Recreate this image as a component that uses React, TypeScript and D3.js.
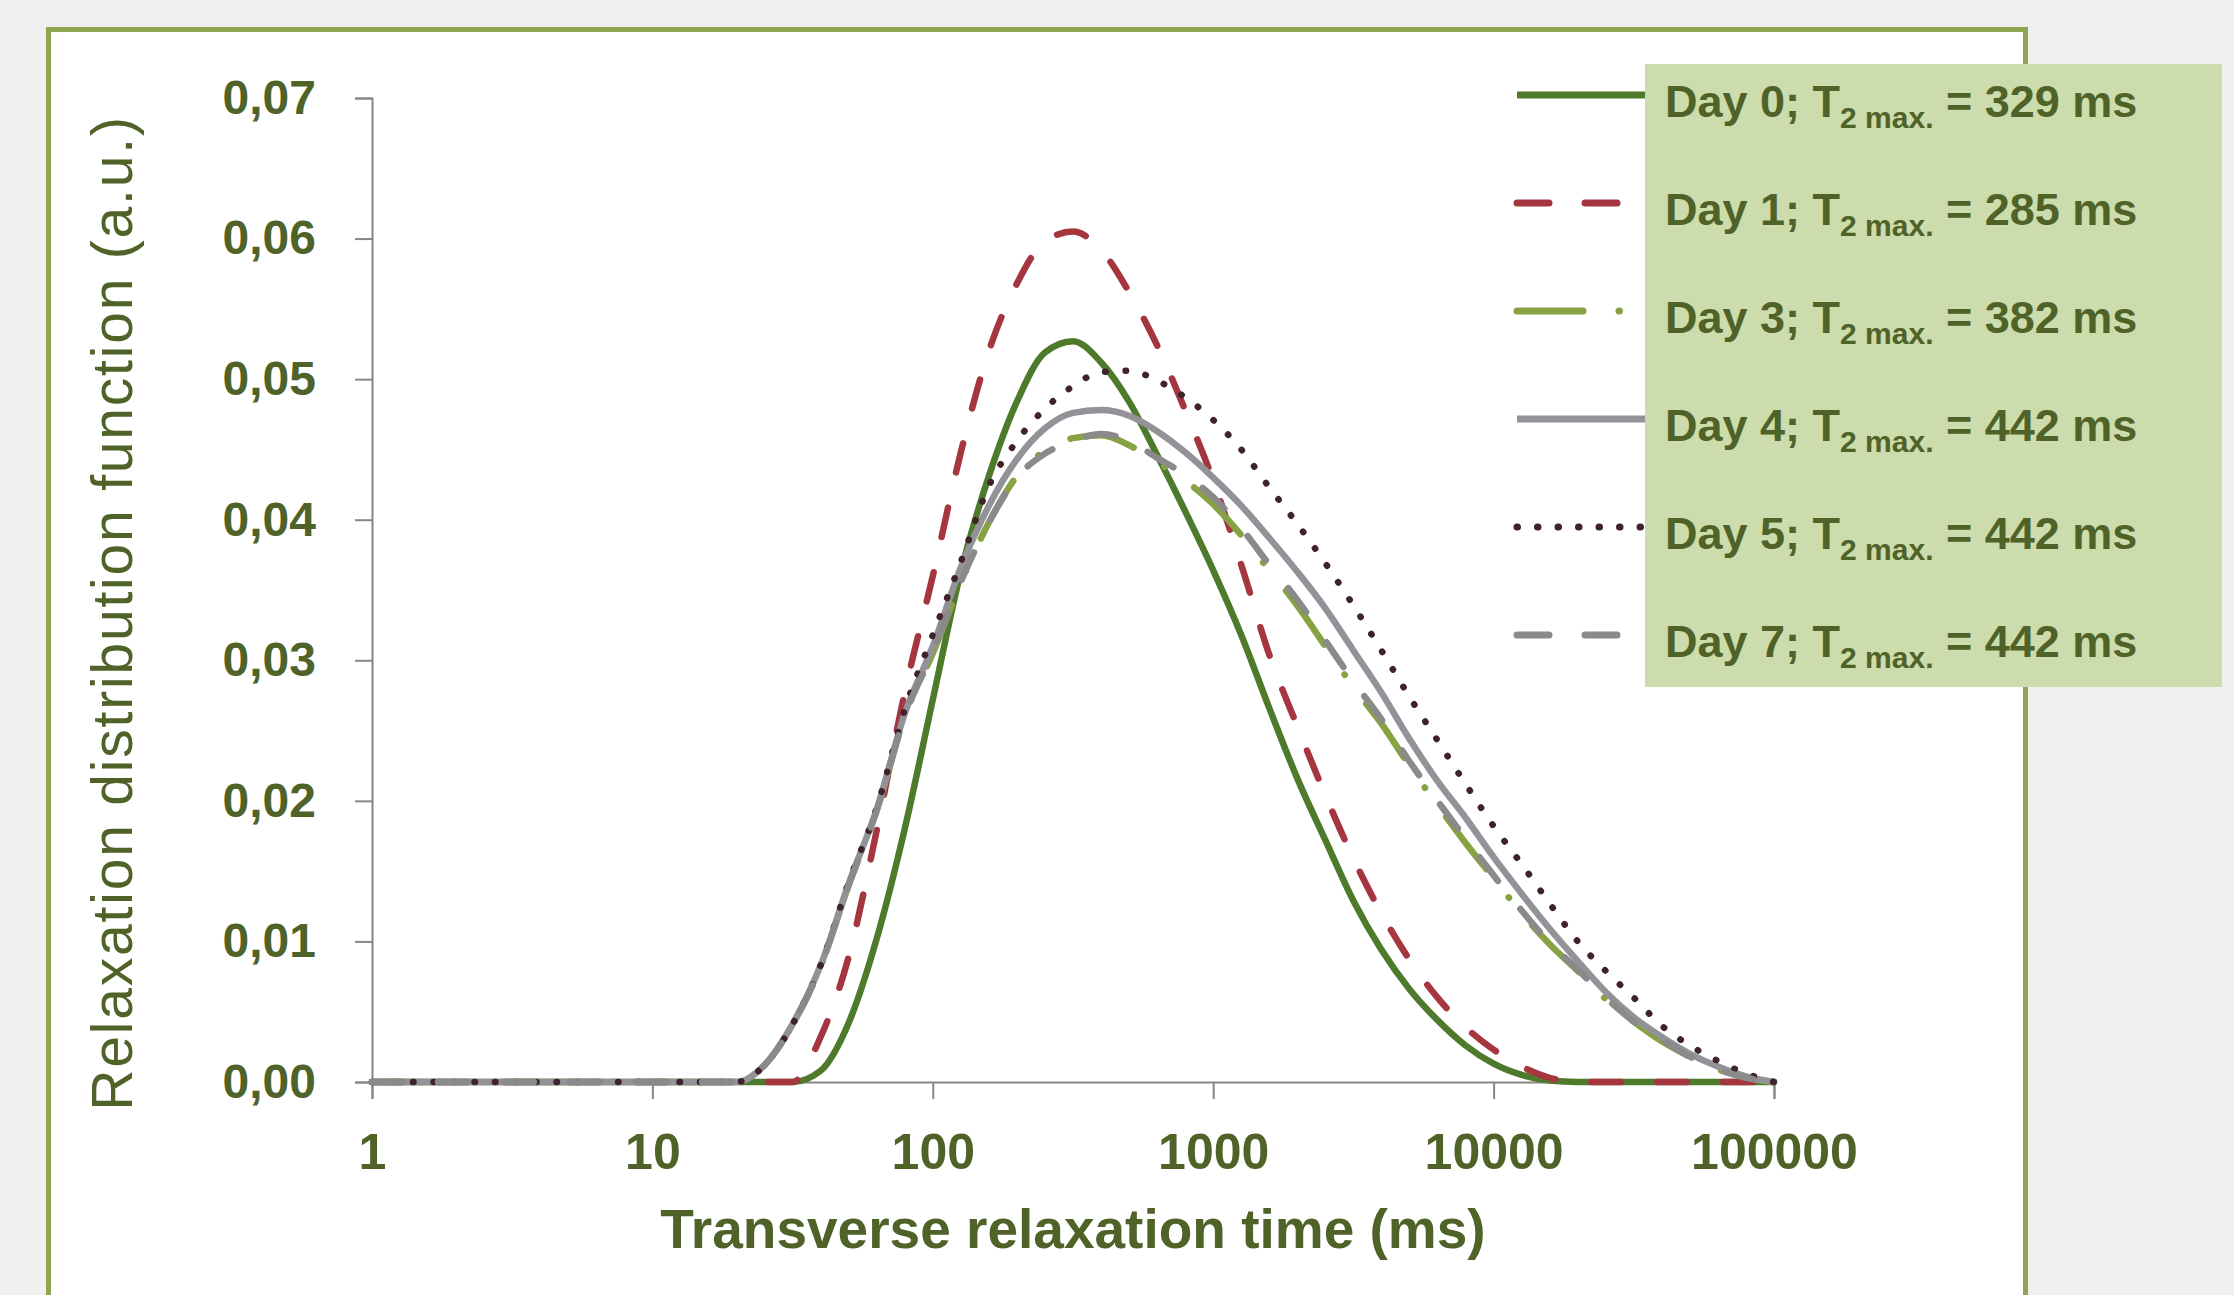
import { useEffect, useRef } from 'react';
import * as d3 from 'd3';

// transverse relaxation times (ms), log spaced
const T2_MS = [1, 20, 25.1, 31.6, 39.8, 50.1, 63.1, 79.4, 100, 125.9, 158.5, 199.5, 251.2, 316.2, 398.1, 501.2, 631, 794.3, 1000, 1259, 1585, 1995, 2512, 3162, 3981, 5012, 6310, 7943, 10000, 12589, 15849, 19953, 25119, 31623, 39811, 50119, 63096, 79433, 100000];

const DAY0 = [0, 0, 0, 0, 0.0008, 0.0042, 0.0102, 0.018, 0.0272, 0.0363, 0.0431, 0.0484, 0.0519, 0.0527, 0.0512, 0.0484, 0.0446, 0.0406, 0.0364, 0.0318, 0.0266, 0.0216, 0.0172, 0.0129, 0.0094, 0.0066, 0.0044, 0.0026, 0.0013, 0.0005, 0.0001, 0, 0, 0, 0, 0, 0, 0, 0];
const DAY1 = [0, 0, 0, 0, 0.0032, 0.0089, 0.0179, 0.0277, 0.036, 0.0448, 0.052, 0.0568, 0.0598, 0.0605, 0.0592, 0.0562, 0.0524, 0.0478, 0.0428, 0.0368, 0.0304, 0.0253, 0.0204, 0.0159, 0.012, 0.0087, 0.006, 0.0039, 0.0023, 0.0011, 0.0003, 0, 0, 0, 0, 0, 0, 0, 0];
const DAY3 = [0, 0, 0.0012, 0.0041, 0.0082, 0.014, 0.0193, 0.026, 0.0305, 0.0355, 0.0398, 0.0431, 0.0449, 0.0458, 0.046, 0.0453, 0.0441, 0.0428, 0.0411, 0.0389, 0.0364, 0.0339, 0.031, 0.0281, 0.0255, 0.0225, 0.0197, 0.017, 0.0145, 0.012, 0.0098, 0.0079, 0.0059, 0.0043, 0.0029, 0.0018, 0.0009, 0.0003, 0];
const DAY4 = [0, 0, 0.0012, 0.0041, 0.0083, 0.0141, 0.0194, 0.0262, 0.031, 0.0366, 0.041, 0.0443, 0.0465, 0.0476, 0.0478, 0.0474, 0.0463, 0.0448, 0.043, 0.041, 0.0387, 0.0363, 0.0337, 0.0307, 0.0277, 0.0244, 0.0214, 0.0188, 0.016, 0.0134, 0.0109, 0.0086, 0.0064, 0.0046, 0.0032, 0.002, 0.0011, 0.0004, 0];
const DAY5 = [0, 0, 0.0012, 0.0041, 0.0083, 0.0142, 0.0195, 0.0265, 0.0318, 0.037, 0.0424, 0.0456, 0.0479, 0.0495, 0.0505, 0.0506, 0.0499, 0.0487, 0.0471, 0.045, 0.0423, 0.0397, 0.0369, 0.0339, 0.0307, 0.0274, 0.0243, 0.0212, 0.0182, 0.0155, 0.0127, 0.01, 0.0079, 0.006, 0.004, 0.0026, 0.0015, 0.0006, 0];
const DAY7 = [0, 0, 0.0012, 0.0041, 0.0082, 0.014, 0.0193, 0.026, 0.0306, 0.0356, 0.0398, 0.043, 0.0447, 0.0456, 0.0461, 0.0456, 0.0444, 0.0432, 0.0416, 0.0394, 0.0368, 0.0343, 0.0314, 0.0285, 0.0258, 0.0228, 0.02, 0.0173, 0.0147, 0.0122, 0.0099, 0.008, 0.006, 0.0043, 0.003, 0.0018, 0.0009, 0.0003, 0];

const SERIES_NAMES = ['Day 0', 'Day 1', 'Day 3', 'Day 4', 'Day 5', 'Day 7'];
const T2_MAX = [329, 285, 382, 442, 442, 442];
const X_TICKS = [1, 10, 100, 1000, 10000, 100000];
const Y_TICKS = [0, 0.01, 0.02, 0.03, 0.04, 0.05, 0.06, 0.07];

const SERIES_VALUES = [DAY0, DAY1, DAY3, DAY4, DAY5, DAY7];

const STYLES = [
  { color: '#4e7a2c', dash: null, cap: 'round' },
  { color: '#a5363f', dash: '30,36', cap: 'round' },
  { color: '#86a243', dash: '66,36,0.5,36', cap: 'round' },
  { color: '#929298', dash: null, cap: 'round' },
  { color: '#40222a', dash: '0.5,20', cap: 'round' },
  { color: '#8a8a8a', dash: '30,36', cap: 'round' },
];

const TEXT = '#4f6228';
const FONT = "'Liberation Sans', Arial, sans-serif";

export default function App() {
  const ref = useRef<SVGSVGElement>(null);

  useEffect(() => {
    const svg = d3.select(ref.current);
    svg.selectAll('*').remove();

    const x = d3.scaleLog().domain([1, 100000]).range([372, 1774]);
    const y = d3.scaleLinear().domain([0, 0.07]).range([1082, 98]);

    svg.append('rect').attr('width', 2234).attr('height', 1295).attr('fill', '#f0f0f0');
    svg.append('rect').attr('x', 48.5).attr('y', 29.5).attr('width', 1977).attr('height', 1400)
      .attr('fill', '#fff').attr('stroke', '#8ea64f').attr('stroke-width', 5);

    const comma = d3.formatLocale({ decimal: ',', thousands: '.', grouping: [3], currency: ['', ''] }).format('.2f');

    const yAxis = svg.append('g').attr('transform', `translate(${x(1)},0)`)
      .call(d3.axisLeft(y).tickValues(Y_TICKS).tickSize(17).tickPadding(39).tickFormat(d => comma(d as number)));
    const xAxis = svg.append('g').attr('transform', `translate(0,${y(0)})`)
      .call(d3.axisBottom(x).tickValues(X_TICKS).tickSize(17).tickPadding(34).tickFormat(d3.format('d')));

    [yAxis, xAxis].forEach(a => {
      a.select('.domain').attr('stroke', '#868686').attr('stroke-width', 2);
      a.selectAll('.tick line').attr('stroke', '#868686').attr('stroke-width', 2);
      a.selectAll('.tick text').attr('fill', TEXT).attr('font-family', FONT).attr('font-weight', 'bold');
    });
    yAxis.selectAll('.tick text').attr('font-size', 48);
    xAxis.selectAll('.tick text').attr('font-size', 50);

    svg.append('text').attr('x', 1073).attr('y', 1248).attr('text-anchor', 'middle')
      .attr('font-family', FONT).attr('font-weight', 'bold').attr('font-size', 55).attr('fill', TEXT)
      .text('Transverse relaxation time (ms)');

    svg.append('text').attr('transform', 'translate(132,613) rotate(-90)').attr('text-anchor', 'middle')
      .attr('font-family', FONT).attr('font-size', 57).attr('letter-spacing', 1.8).attr('fill', TEXT)
      .text('Relaxation distribution function (a.u.)');

    const line = d3.line<number>()
      .x((_, i) => x(T2_MS[i]))
      .y(d => y(d))
      .curve(d3.curveMonotoneX);

    SERIES_VALUES.forEach((vals, i) => {
      const s = STYLES[i];
      svg.append('path').attr('d', line(vals)).attr('fill', 'none')
        .attr('stroke', s.color).attr('stroke-width', 6.5)
        .attr('stroke-linecap', s.cap).attr('stroke-linejoin', 'round')
        .attr('stroke-dasharray', s.dash);
    });

    // legend
    const rowY = (i: number) => 95 + i * 108;
    SERIES_NAMES.forEach((_, i) => {
      const s = STYLES[i];
      svg.append('line').attr('x1', 1517).attr('x2', 1660).attr('y1', rowY(i)).attr('y2', rowY(i))
        .attr('stroke', s.color).attr('stroke-width', 7)
        .attr('stroke-linecap', s.dash ? 'round' : 'butt')
        .attr('stroke-dasharray', s.dash ? s.dash.replace('30,36', '32,36') : null);
    });
    svg.append('rect').attr('x', 1645).attr('y', 64).attr('width', 577).attr('height', 623).attr('fill', '#ccdcac');

    SERIES_NAMES.forEach((name, i) => {
      const t = svg.append('text').attr('x', 1665).attr('y', rowY(i) + 22)
        .attr('font-family', FONT).attr('font-weight', 'bold').attr('font-size', 45).attr('fill', TEXT)
        .style('white-space', 'pre');
      t.append('tspan').text(`${name}; T`);
      t.append('tspan').attr('font-size', 30).attr('dy', 11).text('2 max.');
      t.append('tspan').attr('dy', -11).text(` = ${T2_MAX[i]} ms`);
    });
  }, []);

  return <svg ref={ref} width={2234} height={1295} style={{ position: 'fixed', left: 0, top: 0, display: 'block' }} />;
}
